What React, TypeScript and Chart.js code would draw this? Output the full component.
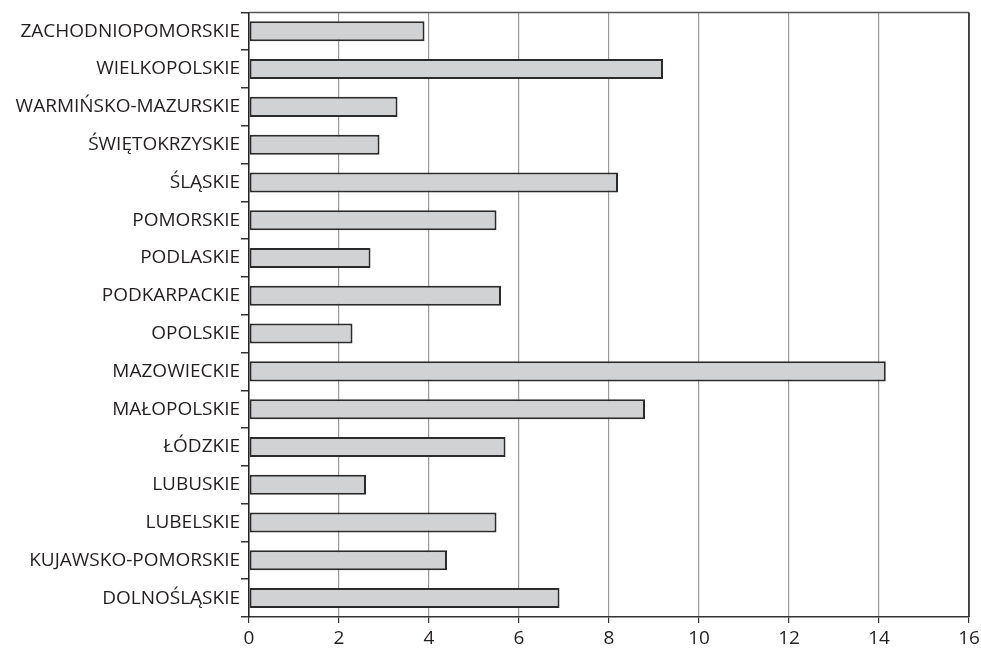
import React, { useEffect, useRef } from "react";
import { Chart, registerables } from "chart.js";

Chart.register(...registerables);

const regions: string[] = [
  "ZACHODNIOPOMORSKIE",
  "WIELKOPOLSKIE",
  "WARMIŃSKO-MAZURSKIE",
  "ŚWIĘTOKRZYSKIE",
  "ŚLĄSKIE",
  "POMORSKIE",
  "PODLASKIE",
  "PODKARPACKIE",
  "OPOLSKIE",
  "MAZOWIECKIE",
  "MAŁOPOLSKIE",
  "ŁÓDZKIE",
  "LUBUSKIE",
  "LUBELSKIE",
  "KUJAWSKO-POMORSKIE",
  "DOLNOŚLĄSKIE",
];

const values: number[] = [
  3.9, 9.2, 3.3, 2.9, 8.2, 5.5, 2.7, 5.6, 2.3, 14.15, 8.8, 5.7, 2.6, 5.5, 4.4, 6.9,
];

const xMin = 0;
const xMax = 16;
const xStep = 2;

const FONT = "'Open Sans', 'Noto Sans', sans-serif";

const areaBorder = {
  id: "areaBorder",
  afterDraw(chart: any) {
    const { ctx, chartArea } = chart;
    ctx.save();
    ctx.lineWidth = 1.5;
    ctx.strokeStyle = "#555555";
    ctx.beginPath();
    ctx.moveTo(chartArea.left, chartArea.top);
    ctx.lineTo(chartArea.right, chartArea.top);
    ctx.stroke();
    ctx.strokeStyle = "#222222";
    ctx.beginPath();
    ctx.moveTo(chartArea.right, chartArea.top);
    ctx.lineTo(chartArea.right, chartArea.bottom);
    ctx.stroke();
    ctx.restore();
  },
};

export default function App() {
  const ref = useRef<HTMLCanvasElement | null>(null);

  useEffect(() => {
    if (!ref.current) return;
    const chart = new Chart(ref.current, {
      type: "bar",
      data: {
        labels: regions,
        datasets: [
          {
            data: values,
            backgroundColor: "#d1d2d4",
            borderColor: "#2b2b2b",
            borderWidth: 2,
            borderSkipped: false,
            barPercentage: 0.53,
            categoryPercentage: 1,
          },
        ],
      },
      options: {
        indexAxis: "y",
        responsive: false,
        animation: false,
        maintainAspectRatio: false,
        layout: { padding: { left: 0, right: 12, top: 12, bottom: 0 } },
        plugins: {
          legend: { display: false },
          tooltip: { enabled: false },
          title: { display: false },
        },
        scales: {
          x: {
            type: "linear",
            min: xMin,
            max: xMax,
            ticks: {
              stepSize: xStep,
              color: "#231f20",
              font: { family: FONT, size: 19 },
              padding: 4,
            },
            grid: {
              color: "#9a9a9a",
              lineWidth: 1.2,
              tickColor: "#333333",
              tickLength: 6,
              drawTicks: true,
            },
            border: { color: "#333333", width: 1.5 },
            afterFit: (scale: any) => {
              scale.height = 35;
              scale.paddingRight = 0;
              scale.paddingLeft = 0;
            },
          },
          y: {
            type: "category",
            ticks: {
              color: "#231f20",
              font: { family: FONT, size: 19 },
              padding: 1,
            },
            grid: {
              offset: true,
              drawOnChartArea: false,
              drawTicks: true,
              tickLength: 8,
              color: "#333333",
              tickColor: "#333333",
              lineWidth: 1.5,
            },
            border: { color: "#222222", width: 1.5 },
            afterFit: (scale: any) => {
              scale.width = 249;
            },
          },
        },
      },
      plugins: [areaBorder],
    });
    return () => chart.destroy();
  }, []);

  return (
    <div style={{ position: "fixed", left: 0, top: 0, width: 981, height: 652, background: "#ffffff" }}>
      <canvas ref={ref} width={981} height={652} style={{ width: 981, height: 652 }} />
    </div>
  );
}
